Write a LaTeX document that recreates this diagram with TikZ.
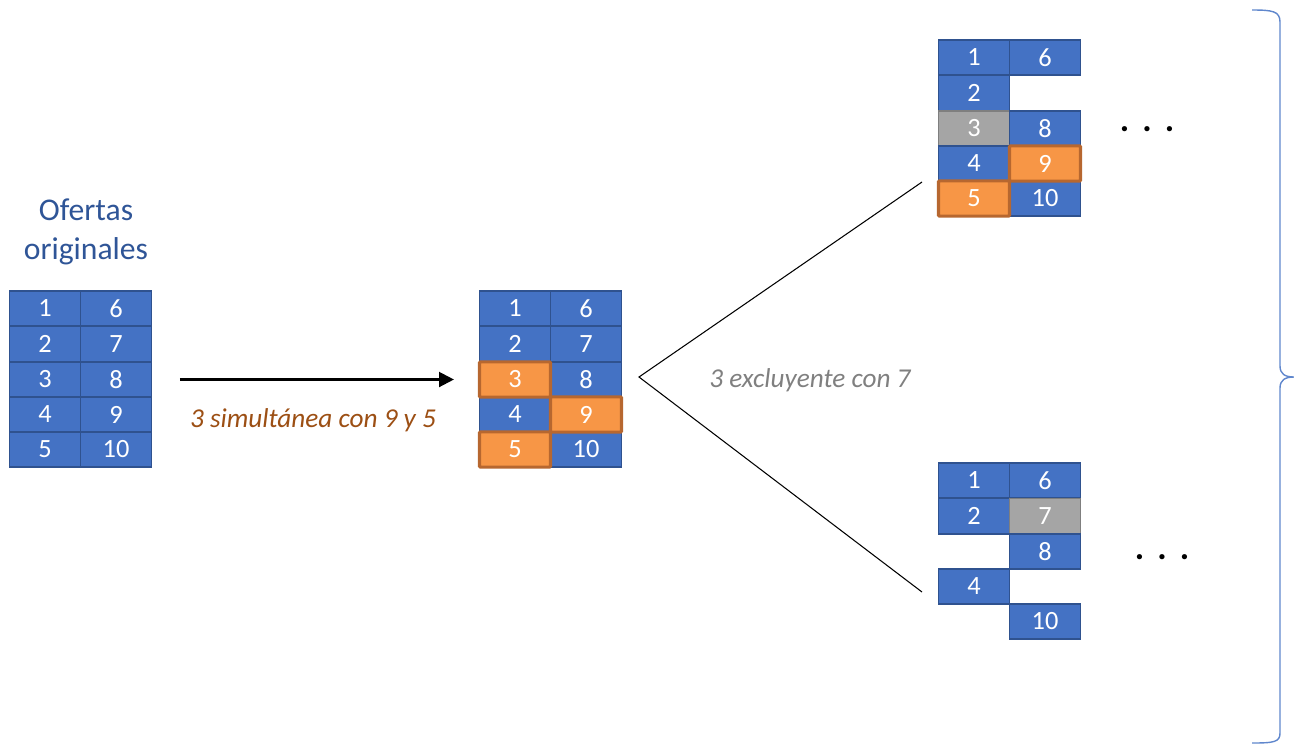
\documentclass[tikz,border=0pt]{standalone}
\usepackage{fontspec}
\setmainfont{Carlito}
\usetikzlibrary{arrows.meta, positioning}
\definecolor{cellblue}{HTML}{4472C4}
\definecolor{cellline}{HTML}{2F528F}
\definecolor{cellorange}{HTML}{F79646}
\definecolor{orangeline}{HTML}{B7672F}
\definecolor{cellgray}{HTML}{A5A5A5}
\definecolor{grayline}{HTML}{7F7F7F}
\definecolor{titleblue}{HTML}{2F5597}
\definecolor{brownlabel}{HTML}{9C4F14}
\definecolor{graylabel}{HTML}{808080}
\colorlet{bracecol}{cellblue!85!white}

\tikzset{
  cell/.style={draw=cellline, fill=cellblue, line width=1pt, text=white,
    minimum width=1.42cm, minimum height=0.705cm, inner sep=0pt,
    font=\fontsize{15}{17}\selectfont},
  hitcell/.style={cell, draw=orangeline, fill=cellorange, line width=1.8pt, rounded corners=0.6pt},
  offcell/.style={cell, draw=grayline, fill=cellgray},
  steplabel/.style={font=\fontsize{15.5}{18}\selectfont\itshape},
  moredots/.style={font=\fontsize{20}{22}\selectfont\bfseries},
}

\begin{document}
\begin{tikzpicture}[x=0.02cm, y=-0.02cm, >=Stealth]
    \useasboundingbox (0,0) rectangle (1294,745);

    % original offers
    \node[text=titleblue, align=center, font=\fontsize{18}{22}\selectfont] (title) at (86,232) {Ofertas\\originales};
    \node[cell] (l1) at (45,308.5) {1};
    \node[cell] (l2) at (45,344) {2};
    \node[cell] (l3) at (45,379.5) {3};
    \node[cell] (l4) at (45,414.5) {4};
    \node[cell] (l5) at (45,449.5) {5};
    \node[cell] (l6) at (116,308.5) {6};
    \node[cell] (l7) at (116,344) {7};
    \node[cell] (l8) at (116,379.5) {8};
    \node[cell] (l9) at (116,414.5) {9};
    \node[cell] (l10) at (116,449.5) {10};

    % after the first step
    \node[cell] (m1) at (515,308.5) {1};
    \node[cell] (m2) at (515,344) {2};
    \node[cell] (m4) at (515,414.5) {4};
    \node[cell] (m6) at (586,308.5) {6};
    \node[cell] (m7) at (586,344) {7};
    \node[cell] (m8) at (586,379.5) {8};
    \node[cell] (m10) at (586,449.5) {10};
    \node[hitcell] (m3) at (515,379.5) {3};
    \node[hitcell] (m5) at (515,449.5) {5};
    \node[hitcell] (m9) at (586,414.5) {9};

    % upper branch
    \node[cell] (a1) at (974,57.5) {1};
    \node[cell] (a2) at (974,93) {2};
    \node[offcell] (a3) at (974,128.5) {3};
    \node[cell] (a4) at (974,163.5) {4};
    \node[cell] (a6) at (1045,57.5) {6};
    \node[cell] (a8) at (1045,128.5) {8};
    \node[cell] (a10) at (1045,198.5) {10};
    \node[hitcell] (a9) at (1045,163.5) {9};
    \node[hitcell] (a5) at (974,198.5) {5};
    \node[moredots] (adots) at (1147,129) {.\hspace{7.5pt}.\hspace{7.5pt}.};

    % lower branch
    \node[cell] (b1) at (974,480.5) {1};
    \node[cell] (b2) at (974,516) {2};
    \node[cell] (b4) at (974,586.5) {4};
    \node[cell] (b6) at (1045,480.5) {6};
    \node[offcell] (b7) at (1045,516) {7};
    \node[cell] (b8) at (1045,551.5) {8};
    \node[cell] (b10) at (1045,621.5) {10};
    \node[moredots] (bdots) at (1162,557) {.\hspace{7.5pt}.\hspace{7.5pt}.};

    % connectors
    \draw[->, line width=1.3pt, shorten <=0.55cm, shorten >=0.48cm,
      arrows={-{Triangle[length=8.5pt,width=8.5pt]}}] (l8.west -| l8.east) -- (l8.east -| m3.west);
    \node[steplabel, text=brownlabel] (simlabel) at (313,420) {3 simultánea con 9 y 5};

    \coordinate (split) at (639,377);
    \coordinate (upend) at (922,182);
    \coordinate (downend) at (922,592);
    \draw[line width=0.6pt] (upend) -- (split) -- (downend);
    \node[steplabel, text=graylabel] (exclabel) at (810,380) {3 excluyente con 7};

    % closing brace
    \draw[bracecol, line width=0.8pt] (1252,10) .. controls (1272,10) and (1280,11) .. (1280,22)
      -- (1280,366) .. controls (1280,374) and (1285,377) .. (1294,377)
      .. controls (1285,377) and (1280,380) .. (1280,388)
      -- (1280,733) .. controls (1280,742) and (1274,743) .. (1252,743);
\end{tikzpicture}
\end{document}
